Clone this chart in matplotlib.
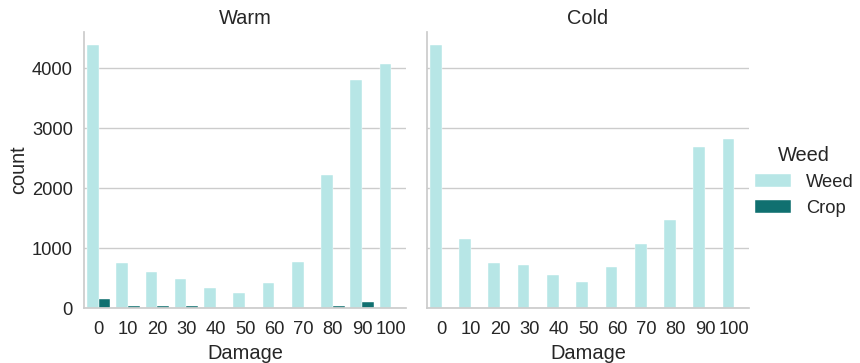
import matplotlib
matplotlib.use("Agg")
import matplotlib.pyplot as plt
import pandas as pd
import seaborn as sns

# counts per damage class, split by temperature and plant type
damage = [0, 10, 20, 30, 40, 50, 60, 70, 80, 90, 100]
warm_weed = [4386, 757, 612, 490, 339, 261, 418, 774, 2229, 3801, 4069]
warm_crop = [150, 30, 40, 40, 8, 0, 5, 0, 40, 110, 0]
cold_weed = [4386, 1159, 752, 719, 557, 440, 686, 1080, 1472, 2681, 2814]
cold_crop = [0, 0, 0, 0, 0, 0, 0, 0, 0, 0, 0]

rows = []
for temp, weed, crop in [("Warm", warm_weed, warm_crop), ("Cold", cold_weed, cold_crop)]:
    for d, w, c in zip(damage, weed, crop):
        rows.append({"Temp": temp, "Damage": d, "Weed": "Weed", "count": w})
        rows.append({"Temp": temp, "Damage": d, "Weed": "Crop", "count": c})
df = pd.DataFrame(rows)

sns.set_theme(style="whitegrid", font_scale=1.2)
plt.rcParams["font.family"] = ["Liberation Sans", "DejaVu Sans"]

g = sns.catplot(
    data=df, kind="bar", x="Damage", y="count", hue="Weed", col="Temp",
    palette=["paleturquoise", "teal"], errorbar=None, height=3.63, aspect=1.0,
    linewidth=0.3, edgecolor="white",
)
g.set_titles("{col_name}")
g.set_axis_labels("Damage", "count")
g.axes[0, 0].tick_params(axis="y", pad=2)
g.axes[0, 0].yaxis.labelpad = 3

fig = g.figure
fig.set_size_inches(8.6, 3.63)
fig.subplots_adjust(left=0.0977, right=0.871, bottom=0.1507, top=0.9118, wspace=0.065)
g.legend.set_bbox_to_anchor((1.012, 0.5), transform=fig.transFigure)

fig.savefig("out.png", dpi=100)
